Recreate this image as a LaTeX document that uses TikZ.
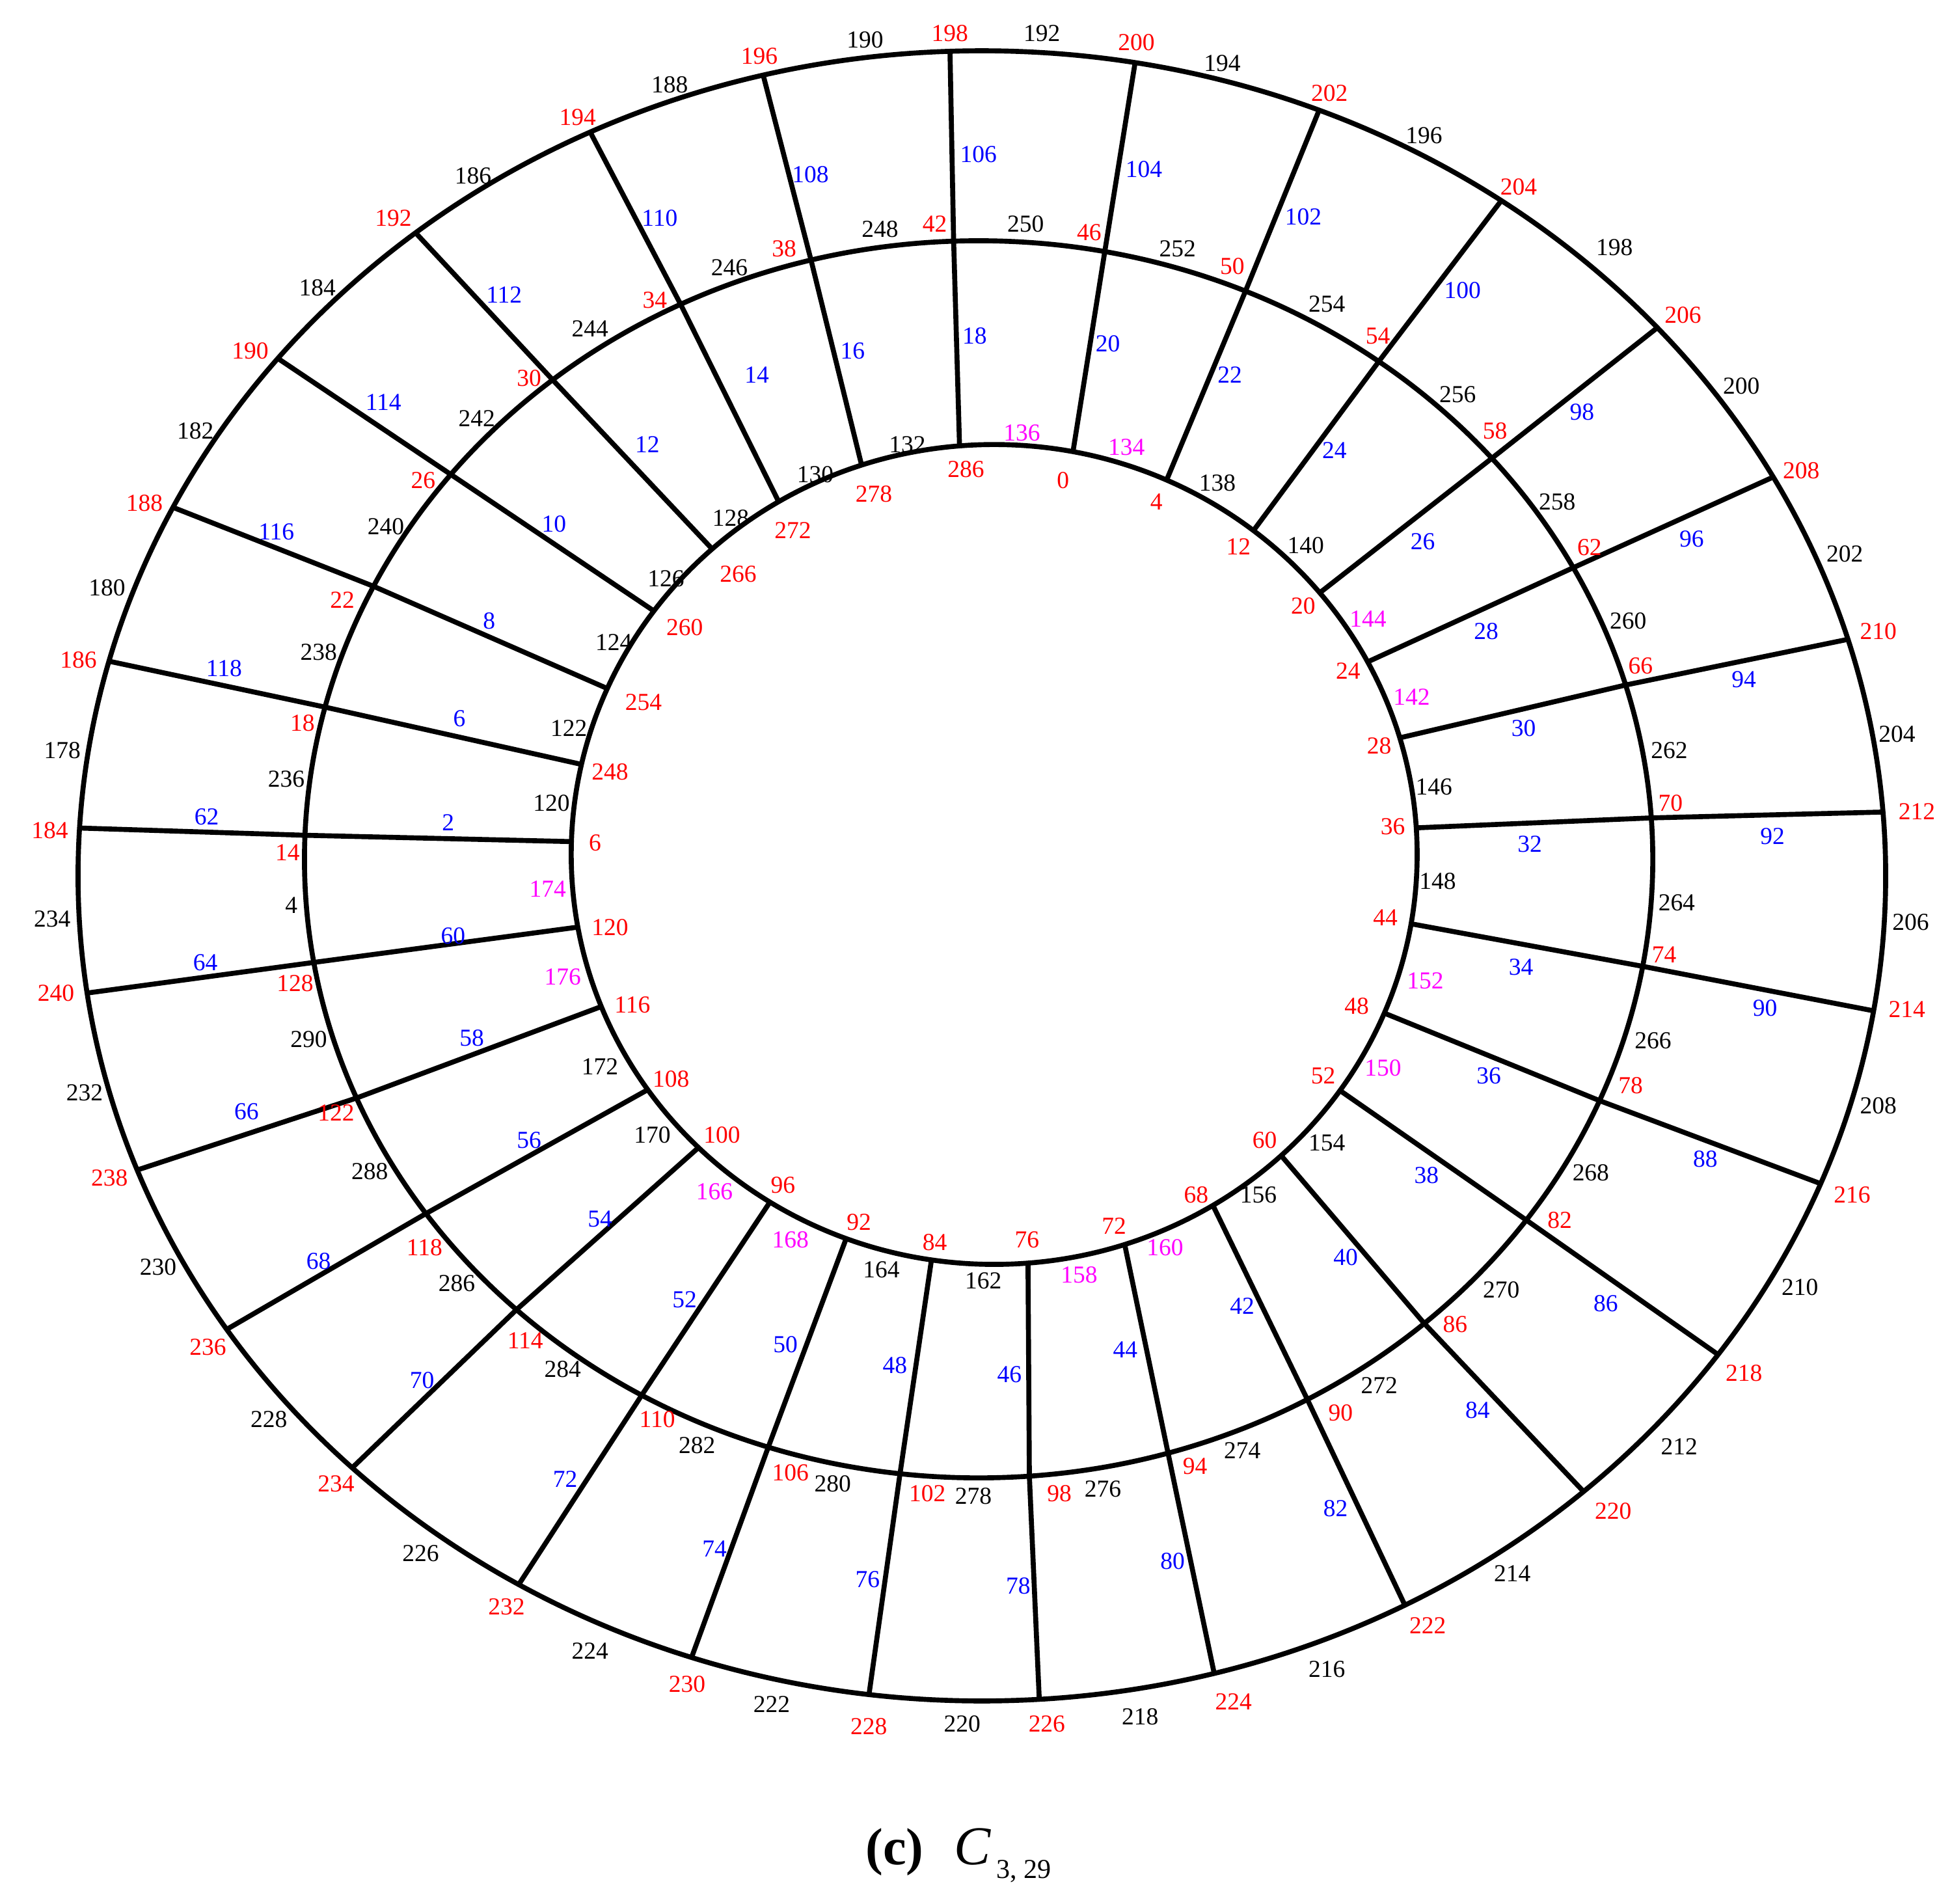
\documentclass[tikz,border=0pt]{standalone}
\usepackage{fontspec}
\setmainfont{Liberation Serif}
\definecolor{lred}{RGB}{255,0,0}
\definecolor{lblue}{RGB}{0,0,255}
\definecolor{lmag}{RGB}{255,0,255}
% ring ellipses (centre, radii) in reference pixel units
\def\cxO{788.8}\def\cyO{703.6}\def\rxO{726.1}\def\ryO{662.8}
\def\cxM{786.2}\def\cyM{690.3}\def\rxM{541.6}\def\ryM{496.9}
\def\cxI{798.7}\def\cyI{686.4}\def\rxI{339.8}\def\ryI{329.3}
% project a measured point onto ring #2 and name it #1
\newcommand\rp[4]{%
  \pgfmathsetmacro\rpang{atan2((#4-\csname cy#2\endcsname)/\csname ry#2\endcsname,(#3-\csname cx#2\endcsname)/\csname rx#2\endcsname)}%
  \pgfmathsetmacro\rpx{\csname cx#2\endcsname+\csname rx#2\endcsname*cos(\rpang)}%
  \pgfmathsetmacro\rpy{\csname cy#2\endcsname+\csname ry#2\endcsname*sin(\rpang)}%
  \coordinate (#1) at (\rpx,\rpy);}
\begin{document}
\begin{tikzpicture}[x=0.5pt,y=-0.5pt,
  edge/.style={line width=2.0pt,line join=round},
  lab/.style={inner sep=0pt,font=\fontsize{9.8}{10}\selectfont}]
\useasboundingbox (0,0) rectangle (1568.2,1529.5);
\fill[white] (0,0) rectangle (1568.2,1529.5);
% rings
\draw[edge] (\cxO,\cyO) ellipse [x radius=\rxO, y radius=\ryO];
\draw[edge] (\cxM,\cyM) ellipse [x radius=\rxM, y radius=\ryM];
\draw[edge] (\cxI,\cyI) ellipse [x radius=\rxI, y radius=\ryI];
% spokes: inner / middle / outer junctions
\foreach \i/\ix/\iy/\m/\mx/\my/\o/\ox/\oy in {
 286/771/360/42/766/192/198/763/38,
 0/862/363/46/888/200/200/912/50,
 4/938/384/50/1001/233/202/1060/88,
 12/1008/425/54/1108/290/204/1207/160,
 20/1063/474/58/1200/367/206/1333/262,
 24/1102/530/62/1266/455/208/1423/384,
 28/1127/592/66/1307/550/210/1483/514,
 36/1138/665/70/1327/657/212/1516/652,
 44/1133/742/74/1318/776/214/1505/812,
 48/1110/813/78/1282/883/216/1463/951,
 52/1075/875/82/1226/980/218/1380/1088,
 60/1028/927/86/1146/1065/220/1272/1198,
 68/973/966/90/1052/1127/222/1129/1290,
 72/903/998/94/938/1166/224/976/1346,
 76/826/1016/98/827/1186/226/835/1366,
 84/748/1014/102/723/1184/228/698/1362,
 92/679/997/106/617/1163/230/555/1333,
 96/617/968/110/516/1120/232/416/1274,
 100/558/925/114/415/1052/234/282/1180,
 108/518/877/118/342/975/236/182/1068,
 116/482/809/122/284/883/238/110/940,
 120/463/745/128/253/773/240/68/798,
 6/458/676/14/246/671/184/62/665,
 248/467/614/18/261/568/186/87/531,
 254/490/554/22/298/470/188/140/408,
 260/527/492/26/362/381/190/222/287,
 266/574/443/30/443/304/192/333/186,
 272/628/407/34/546/243/194/473/104,
 278/694/379/38/651/207/196/613/60}{
  \rp{I\i}{I}{\ix}{\iy}
  \rp{M\m}{M}{\mx}{\my}
  \rp{O\o}{O}{\ox}{\oy}
  \draw[edge] (I\i) -- (M\m) -- (O\o);
}
% outer red labels
\foreach \t/\x/\y in {198/763/27,200/913/34,202/1068/75,204/1220/150,206/1352/253,208/1447/378,210/1509/507,212/1540/652,214/1532/811,216/1488/960,218/1401/1103,220/1296/1214,222/1147/1306,224/991/1367,226/841/1385,228/698/1387,230/552/1353,232/407/1291,234/270/1192,236/167/1082,238/88/946,240/45/798,184/40/667,186/63/530,188/116/404,190/201/282,192/316/175,194/464/94,196/610/45}
  \node[lab,text=lred] (ro\t) at (\x,\y) {\t};
% outer black labels
\foreach \t/\x/\y in {192/837/27,194/982/51,196/1144/109,198/1297/199,200/1399/310,202/1482/445,204/1524/590,206/1535/741,208/1509/888,210/1446/1034,212/1349/1162,214/1215/1264,216/1066/1341,218/916/1379,220/773/1385,222/620/1369,224/474/1326,226/338/1248,228/216/1140,230/127/1018,232/68/878,234/42/738,178/50/603,180/86/472,182/157/346,184/255/231,186/380/141,188/538/68,190/695/32}
  \node[lab,text=black] (ko\t) at (\x,\y) {\t};
% outer blue labels
\foreach \t/\x/\y in {106/786/124,104/919/136,102/1047/174,100/1175/233,98/1271/331,96/1359/433,94/1401/546,92/1424/672,90/1418/810,88/1370/931,86/1290/1047,84/1187/1133,82/1073/1212,80/942/1254,78/818/1274,76/697/1269,74/574/1244,72/454/1188,70/339/1109,68/256/1013,66/198/893,64/165/773,62/166/656,118/180/537,116/222/427,114/308/323,112/405/237,110/530/175,108/651/140}
  \node[lab,text=lblue] (bo\t) at (\x,\y) {\t};
% middle red labels
\foreach \t/\x/\y in {42/751/180,46/875/187,50/990/214,54/1107/270,58/1201/346,62/1277/440,66/1318/535,70/1342/645,74/1337/767,78/1310/872,82/1253/980,86/1169/1064,90/1077/1135,94/960/1178,98/851/1200,102/745/1200,106/635/1183,110/528/1140,114/422/1077,118/341/1002,122/270/894,128/237/790,14/231/685,18/243/581,22/275/482,26/340/386,30/425/304,34/526/241,38/630/200}
  \node[lab,text=lred] (rm\t) at (\x,\y) {\t};
% middle black labels
\foreach \t/\x/\y in {250/824/180,252/946/200,254/1066/244,256/1171/317,258/1251/403,260/1308/499,262/1341/603,264/1347/725,266/1328/836,268/1278/942,270/1206/1036,272/1108/1113,274/998/1165,276/886/1196,278/782/1202,280/669/1192,282/560/1161,284/452/1100,286/367/1031,288/297/941,290/248/835,4/234/727,236/230/626,238/256/524,240/310/423,242/383/336,244/474/264,246/586/215,248/707/184}
  \node[lab,text=black] (km\t) at (\x,\y) {\t};
% inner blue labels
\foreach \t/\x/\y in {18/783/270,20/890/276,22/988/301,24/1072/362,26/1143/435,28/1194/507,30/1224/585,32/1229/678,34/1222/777,36/1196/864,38/1146/944,40/1081/1010,42/998/1049,44/904/1084,46/811/1104,48/719/1097,50/631/1080,52/550/1044,54/482/979,56/425/916,58/379/834,60/364/752,2/360/661,6/369/577,8/393/499,10/445/421,12/520/357,14/608/301,16/685/282}
  \node[lab,text=lblue] (bi\t) at (\x,\y) {\t};
% inner red labels
\foreach \t/\x/\y in {286/776/377,0/854/386,4/929/403,12/995/439,20/1047/487,24/1083/539,28/1108/599,36/1119/664,44/1113/737,48/1090/808,52/1063/864,60/1016/916,68/961/960,72/895/985,76/825/996,84/751/998,92/690/982,96/629/952,100/580/912,108/539/867,116/508/807,120/490/745,6/478/677,248/490/620,254/517/564,260/550/504,266/593/461,272/637/426,278/702/397}
  \node[lab,text=lred] (ri\t) at (\x,\y) {\t};
% inner arc labels, black
\foreach \t/\x/\y in {138/978/388,140/1049/438,146/1152/632,148/1155/708,154/1066/918,156/1011/960,162/790/1029,164/708/1020,170/524/912,172/482/857,120/443/645,122/457/585,124/493/516,126/535/465,128/587/416,130/655/381,132/729/357}
  \node[lab,text=black] (ki\t) at (\x,\y) {\t};
% inner arc labels, magenta
\foreach \t/\x/\y in {136/821/348,134/905/359,144/1099/497,142/1134/560,152/1145/788,150/1111/858,160/936/1002,158/867/1024,168/635/996,166/574/957,176/452/785,174/440/714}
  \node[lab,text=lmag] (mi\t) at (\x,\y) {\t};
% caption
\node[anchor=base west,inner sep=0pt,font=\fontsize{21}{24}\selectfont\bfseries] (capc) at (695,1498) {(c)};
\node[anchor=base west,inner sep=0pt,font=\fontsize{22}{24}\selectfont\itshape] (capC) at (766,1498) {C};
\node[anchor=base west,inner sep=0pt,font=\fontsize{11}{12}\selectfont] (capsub) at (800,1509) {3, 29};
\end{tikzpicture}
\end{document}
